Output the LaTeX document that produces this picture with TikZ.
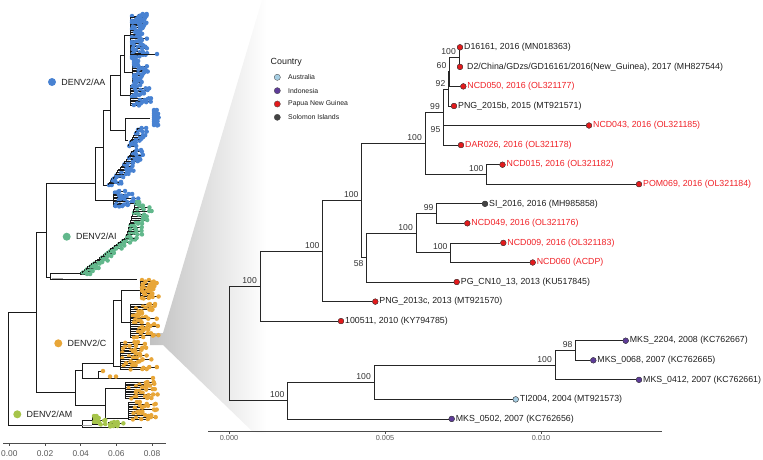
\documentclass[tikz,border=0pt]{standalone}
\usepackage{fontspec}
\setmainfont{Liberation Sans}
\definecolor{pngred}{RGB}{227,26,28}
\definecolor{labred}{RGB}{240,32,38}
\definecolor{indopur}{RGB}{94,60,153}
\definecolor{auslb}{RGB}{166,206,227}
\definecolor{solgray}{RGB}{68,68,68}
\definecolor{caa}{RGB}{72,130,210}
\definecolor{cai}{RGB}{98,184,140}
\definecolor{cc}{RGB}{232,166,56}
\definecolor{cam}{RGB}{166,196,74}
\definecolor{txt}{RGB}{30,30,30}
\definecolor{bstxt}{RGB}{50,50,50}
\tikzset{
  tline/.style={draw=black!85, line width=0.75pt},
  ltree/.style={draw=black!90, line width=0.4pt},
  tipdot/.style={circle, draw=black!75, line width=0.35pt, inner sep=0pt, minimum size=5.6pt, fill=#1},
  tiplab/.style={anchor=west, inner sep=1pt, text=txt, font=\fontsize{8.8}{10}\selectfont},
  redlab/.style={tiplab, text=labred},
  bs/.style={anchor=south east, inner sep=0.5pt, text=bstxt, font=\fontsize{8.6}{10}\selectfont, xshift=-2.5pt, yshift=2pt},
  bsb/.style={anchor=north east, inner sep=0.5pt, text=bstxt, font=\fontsize{8.6}{10}\selectfont, xshift=-2.5pt, yshift=-2pt},
  lgtitle/.style={anchor=west, inner sep=0pt, text=txt, font=\fontsize{8.9}{10}\selectfont},
  lglab/.style={anchor=west, inner sep=0pt, text=txt, font=\fontsize{6.9}{8}\selectfont},
  lgdot/.style={circle, draw=black!70, line width=0.35pt, inner sep=0pt, minimum size=6.2pt, fill=#1},
  cdot/.style={circle, draw=none, inner sep=0pt, minimum size=8pt, fill=#1},
  cladelab/.style={anchor=west, inner sep=0pt, xshift=5pt, text=txt, font=\fontsize{8.9}{10}\selectfont},
  axline/.style={draw=black!70, line width=0.6pt},
  axlab/.style={inner sep=0pt, text=black!65, font=\fontsize{7.3}{8}\selectfont},
  laxlab/.style={inner sep=0pt, text=black!65, font=\fontsize{8.4}{9}\selectfont}
}
% comb: color, x of vertical, y from, y to, intervals, tip xmin, tip xmax
\newcommand\lcomb[7]{%
  \draw[ltree] (#2,#3) -- (#2,#4);
  \foreach \i in {0,...,#5}{%
    \pgfmathsetmacro\lcy{#3+(#4-#3)*\i/#5}%
    \pgfmathsetmacro\lcx{#6+rnd*(#7-#6)}%
    \pgfmathsetmacro\lcz{max(#2+2,\lcx-2-rnd*7)}%
    \pgfmathsetmacro\lcw{#2+2+rnd*(\lcx-#2-2)}%
    \draw[ltree] (#2,\lcy) -- (\lcx,\lcy);
    \fill[#1] (\lcx,\lcy) circle[radius=2.25pt] (\lcz,\lcy) circle[radius=2.25pt] (\lcw,\lcy+0.6) circle[radius=2.1pt];
  }%
}
% ladder: color, x start, y start, x end, y end, intervals, max tip length
\newcommand\lladder[7]{%
  \foreach \i in {0,...,#6}{%
    \pgfmathsetmacro\lxn{#2+(#4-#2)*\i/#6}%
    \pgfmathsetmacro\lyn{#3+(#5-#3)*\i/#6}%
    \pgfmathsetmacro\lxt{\lxn+2+rnd*#7}%
    \pgfmathsetmacro\lxs{max(\lxn+1,\lxt-2-rnd*5)}%
    \ifnum\i>0
      \pgfmathsetmacro\lxp{#2+(#4-#2)*(\i-1)/#6}%
      \pgfmathsetmacro\lyp{#3+(#5-#3)*(\i-1)/#6}%
      \draw[ltree] (\lxp,\lyp) |- (\lxn,\lyn);
    \fi
    \draw[ltree] (\lxn,\lyn) -- (\lxt,\lyn);
    \fill[#1] (\lxt,\lyn) circle[radius=2.25pt] (\lxs,\lyn) circle[radius=2.25pt];
  }%
}
\begin{document}
\begin{tikzpicture}[x=1pt,y=-1pt]
\useasboundingbox (0,0) rectangle (763,459);
\pgfmathsetseed{4242}
% zoom wedge
\shade[left color=gray!48, right color=white, draw=none]
  (150,333) -- (163,333) -- (262,0) -- (266,0) -- (266,434) -- (253,432) -- (163,345) -- (150,345) -- cycle;

% ================= left tree =================
\coordinate (L0) at (8.3,368.35);
\coordinate (LN2) at (36,311.7);
\coordinate (LN1) at (46,231.7);
\coordinate (LAA) at (95,183.3);
\coordinate (LAI) at (50,277);
\coordinate (LC) at (75,391.7);
\coordinate (LAM) at (81.7,425);
\draw[ltree] (L0) |- (LN2);
\draw[ltree] (L0) |- (LAM);
\draw[ltree] (LN2) |- (LN1);
\draw[ltree] (LN2) |- (LC);
\draw[ltree] (LN1) |- (LAA);
\draw[ltree] (LN1) |- (LAI);

% AA clade
\draw[ltree] (95,147) -- (95,200);
\draw[ltree] (95,200) -- (113,200);
\lcomb{caa}{113}{191}{206}{10}{118}{142}
\draw[ltree] (95,147) -- (103,147);
\draw[ltree] (103,110) -- (103,185);
\draw[ltree] (103,185) -- (108,185);
\lladder{caa}{108}{185}{134}{150}{22}{13}
\draw[ltree] (103,110) -- (110,110);
\draw[ltree] (110,75) -- (110,130);
\draw[ltree] (110,130) -- (125,130);
\draw[ltree] (125,118) -- (125,140);
\draw[ltree] (125,140) -- (128,140);
\lladder{caa}{128}{146}{138}{128}{10}{11}
\draw[ltree] (125,118) -- (150,118);
\lcomb{caa}{152}{110}{125}{8}{154}{159}
\draw[ltree] (110,75) -- (120,75);
\draw[ltree] (120,55) -- (120,95);
\draw[ltree] (120,95) -- (130,95);
\lcomb{caa}{130}{85}{105}{12}{135}{152}
\draw[ltree] (120,55) -- (124,55);
\draw[ltree] (124,35) -- (124,72);
\draw[ltree] (124,72) -- (132,72);
\lcomb{caa}{132}{61}{82}{12}{136}{154}
\draw[ltree] (124,35) -- (130,35);
\lcomb{caa}{130}{16}{58}{26}{133}{148}
\lcomb{caa}{138}{14}{28}{8}{140}{147}
\draw[ltree] (130,54) -- (157,54);
\fill[caa] (157,54) circle[radius=2.25pt];

% AI clade
\draw[ltree] (50,273) -- (50,279);
\draw[ltree] (50,279) -- (136.7,279);
\draw[gray!70, line width=1.4pt] (52,278.6) -- (63,278.6);
\draw[ltree] (50,273) -- (80,273);
\lladder{cai}{80}{274}{126}{238}{24}{9}
\lladder{cai}{126}{238}{136}{202}{20}{18}

% C clade
\draw[ltree] (75,370) -- (75,405);
\draw[ltree] (75,370) -- (81.7,370);
\draw[ltree] (81.7,363) -- (81.7,378);
\draw[ltree] (81.7,378) -- (153,378);
\fill[cc] (153,378) circle[radius=2.25pt];
\draw[ltree] (98,378) |- (103,371);
\fill[cc] (103,371) circle[radius=2.25pt];
\fill[cc] (110,376.5) circle[radius=2.25pt];
\fill[cc] (116,376.5) circle[radius=2.25pt];
\draw[ltree] (81.7,363) -- (113,363);
\draw[ltree] (113,300) -- (113,366);
\draw[ltree] (113,300) -- (121,300);
\draw[ltree] (121,290) -- (121,322);
\draw[ltree] (121,290) -- (140,290);
\lcomb{cc}{140}{280}{298}{12}{146}{160}
\draw[ltree] (121,322) -- (130,322);
\lcomb{cc}{130}{304}{337}{18}{138}{160}
\draw[ltree] (113,366) -- (120,366);
\lcomb{cc}{120}{342}{369}{14}{134}{158}
\draw[ltree] (75,405) -- (105,405);
\draw[ltree] (105,388) -- (105,418);
\draw[ltree] (105,388) -- (125,388);
\lcomb{cc}{125}{382}{398}{9}{138}{158}
\draw[ltree] (105,418) -- (128,418);
\lcomb{cc}{128}{402}{419}{9}{138}{158}

% AM clade
\draw[ltree] (81.7,420) -- (81.7,427);
\draw[ltree] (81.7,427) -- (141.7,427);
\draw[gray!70, line width=1.4pt] (82,425.6) -- (92,425.6);
\draw[ltree] (81.7,420) -- (92,420);
\lcomb{cam}{92}{416}{424}{4}{96}{106}
\draw[ltree] (100,427) -- (108,427);
\lcomb{cam}{108}{422}{426}{3}{112}{128}

% clade labels
\node[cdot=caa] (dAA) at (52,82) {};
\node[cladelab] (tAA) at (dAA.east) {DENV2/AA};
\node[cdot=cai] (dAI) at (66.7,236.7) {};
\node[cladelab] (tAI) at (dAI.east) {DENV2/AI};
\node[cdot=cc] (dC) at (58.3,343.3) {};
\node[cladelab] (tC) at (dC.east) {DENV2/C};
\node[cdot=cam] (dAM) at (17.3,414.3) {};
\node[cladelab] (tAM) at (dAM.east) {DENV2/AM};

% left axis
\draw[axline] (3,443.3) -- (166,443.3);
\foreach \k/\lab in {0/0.00,1/0.02,2/0.04,3/0.06,4/0.08}{
  \draw[axline] (9.3+35.7*\k,443.3) -- (9.3+35.7*\k,446.3);
  \node[laxlab] (lax\k) at (9.3+35.7*\k,454) {\lab};
}

% ================= legend =================
\node[lgtitle] (lgT) at (270.5,62.3) {Country};
\node[lgdot=auslb] (lg1) at (277.3,77.3) {};
\node[lglab] (lg1t) at (288,77.3) {Australia};
\node[lgdot=indopur] (lg2) at (277.3,90.7) {};
\node[lglab] (lg2t) at (288,90.7) {Indonesia};
\node[lgdot=pngred] (lg3) at (277.3,104) {};
\node[lglab] (lg3t) at (288,104) {Papua New Guinea};
\node[lgdot=solgray] (lg4) at (277.3,117.3) {};
\node[lglab] (lg4t) at (288,117.3) {Solomon Islands};

% ================= right tree =================
\coordinate (r) at (229,343.3);
\coordinate (n260) at (260,286.05);
\coordinate (n287) at (287.7,400.6);
\coordinate (n322) at (322.7,251.0);
\coordinate (n361) at (361.7,200.45);
\coordinate (n366) at (366.7,257.6);
\coordinate (n425) at (425,143.3);
\coordinate (n99) at (443,112.1);
\coordinate (n95) at (443.5,135.3);
\coordinate (n92) at (448.5,88.9);
\coordinate (n60) at (449.5,71.75);
\coordinate (nD) at (459,57.1);
\coordinate (n486) at (486.7,174.45);
\coordinate (n416) at (416,233.1);
\coordinate (n436) at (436.7,213.55);
\coordinate (n450) at (450.7,252.7);
\coordinate (n374) at (374,382.3);
\coordinate (n555) at (555,365.15);
\coordinate (n575) at (575.7,350.5);

% tips
\node[tipdot=pngred] (tD16161) at (460,47.3) {};
\node[tipdot=pngred] (tD2) at (460,66.9) {};
\node[tipdot=pngred] (tNCD050) at (463.3,86.4) {};
\node[tipdot=pngred] (tPNG15b) at (454,106.0) {};
\node[tipdot=pngred] (tNCD043) at (589,125.5) {};
\node[tipdot=pngred] (tDAR026) at (461,145.1) {};
\node[tipdot=pngred] (tNCD015) at (502.5,164.7) {};
\node[tipdot=pngred] (tPOM069) at (639,184.2) {};
\node[tipdot=solgray] (tSI) at (485,203.8) {};
\node[tipdot=pngred] (tNCD049) at (467.3,223.3) {};
\node[tipdot=pngred] (tNCD009) at (503.3,242.9) {};
\node[tipdot=pngred] (tNCD060) at (532.7,262.5) {};
\node[tipdot=pngred] (tPGCN) at (456.7,282.0) {};
\node[tipdot=pngred] (tPNG13c) at (375.3,301.6) {};
\node[tipdot=pngred] (t100511) at (341,321.1) {};
\node[tipdot=indopur] (tMKS2204) at (625.7,340.7) {};
\node[tipdot=indopur] (tMKS0068) at (593.3,360.3) {};
\node[tipdot=indopur] (tMKS0412) at (639,379.8) {};
\node[tipdot=auslb] (tTI2004) at (515.7,399.4) {};
\node[tipdot=indopur] (tMKS0502) at (451.7,418.9) {};

% branches
\draw[tline] (r) |- (n260);
\draw[tline] (r) |- (n287);
\draw[tline] (n260) |- (n322);
\draw[tline] (n260) |- (t100511);
\draw[tline] (n322) |- (n361);
\draw[tline] (n322) |- (tPNG13c);
\draw[tline] (n361) |- (n425);
\draw[tline] (n361) |- (n366);
\draw[tline] (n425) |- (n99);
\draw[tline] (n425) |- (n486);
\draw[tline] (n99) |- (n92);
\draw[tline] (n99) |- (n95);
\draw[tline] (n92) |- (n60);
\draw[tline] (n92) |- (tPNG15b);
\draw[tline] (n60) |- (nD);
\draw[tline] (n60) |- (tNCD050);
\draw[tline] (nD) |- (tD16161);
\draw[tline] (nD) |- (tD2);
\draw[tline] (n95) |- (tNCD043);
\draw[tline] (n95) |- (tDAR026);
\draw[tline] (n486) |- (tNCD015);
\draw[tline] (n486) |- (tPOM069);
\draw[tline] (n366) |- (n416);
\draw[tline] (n366) |- (tPGCN);
\draw[tline] (n416) |- (n436);
\draw[tline] (n416) |- (n450);
\draw[tline] (n436) |- (tSI);
\draw[tline] (n436) |- (tNCD049);
\draw[tline] (n450) |- (tNCD009);
\draw[tline] (n450) |- (tNCD060);
\draw[tline] (n287) |- (n374);
\draw[tline] (n287) |- (tMKS0502);
\draw[tline] (n374) |- (n555);
\draw[tline] (n374) |- (tTI2004);
\draw[tline] (n555) |- (n575);
\draw[tline] (n555) |- (tMKS0412);
\draw[tline] (n575) |- (tMKS2204);
\draw[tline] (n575) |- (tMKS0068);

% redraw tip dots on top
\foreach \t/\c in {tD16161/pngred,tD2/pngred,tNCD050/pngred,tPNG15b/pngred,tNCD043/pngred,tDAR026/pngred,tNCD015/pngred,tPOM069/pngred,tSI/solgray,tNCD049/pngred,tNCD009/pngred,tNCD060/pngred,tPGCN/pngred,tPNG13c/pngred,t100511/pngred,tMKS2204/indopur,tMKS0068/indopur,tMKS0412/indopur,tTI2004/auslb,tMKS0502/indopur}{
  \fill[\c, draw=black!75, line width=0.35pt] (\t.center) circle[radius=2.8pt];
}

% tip labels
\node[tiplab] (lD16161) at (tD16161.east) {D16161, 2016 (MN018363)};
\node[tiplab, xshift=3pt] (lD2) at (tD2.east) {D2/China/GDzs/GD16161/2016(New\_Guinea), 2017 (MH827544)};
\node[redlab] (lNCD050) at (tNCD050.east) {NCD050, 2016 (OL321177)};
\node[tiplab] (lPNG15b) at (tPNG15b.east) {PNG\_2015b, 2015 (MT921571)};
\node[redlab] (lNCD043) at (tNCD043.east) {NCD043, 2016 (OL321185)};
\node[redlab] (lDAR026) at (tDAR026.east) {DAR026, 2016 (OL321178)};
\node[redlab] (lNCD015) at (tNCD015.east) {NCD015, 2016 (OL321182)};
\node[redlab] (lPOM069) at (tPOM069.east) {POM069, 2016 (OL321184)};
\node[tiplab] (lSI) at (tSI.east) {SI\_2016, 2016 (MH985858)};
\node[redlab] (lNCD049) at (tNCD049.east) {NCD049, 2016 (OL321176)};
\node[redlab] (lNCD009) at (tNCD009.east) {NCD009, 2016 (OL321183)};
\node[redlab] (lNCD060) at (tNCD060.east) {NCD060 (ACDP)};
\node[tiplab] (lPGCN) at (tPGCN.east) {PG\_CN10\_13, 2013 (KU517845)};
\node[tiplab] (lPNG13c) at (tPNG13c.east) {PNG\_2013c, 2013 (MT921570)};
\node[tiplab] (l100511) at (t100511.east) {100511, 2010 (KY794785)};
\node[tiplab] (lMKS2204) at (tMKS2204.east) {MKS\_2204, 2008 (KC762667)};
\node[tiplab] (lMKS0068) at (tMKS0068.east) {MKS\_0068, 2007 (KC762665)};
\node[tiplab] (lMKS0412) at (tMKS0412.east) {MKS\_0412, 2007 (KC762661)};
\node[tiplab] (lTI2004) at (tTI2004.east) {TI2004, 2004 (MT921573)};
\node[tiplab] (lMKS0502) at (tMKS0502.east) {MKS\_0502, 2007 (KC762656)};

% bootstrap labels
\node[bs] (bD) at (nD) {100};
\node[bs] (b60) at (n60) {60};
\node[bs] (b92) at (n92) {92};
\node[bs] (b99) at (n99) {99};
\node[bs] (b95) at (n95) {95};
\node[bs] (b425) at (n425) {100};
\node[bs] (b486) at (n486) {100};
\node[bs] (b361) at (n361) {100};
\node[bs] (b322) at (n322) {100};
\node[bs] (b260) at (n260) {100};
\node[bsb] (b366) at (n366) {58};
\node[bs] (b416) at (n416) {100};
\node[bs] (b436) at (n436) {99};
\node[bs] (b450) at (n450) {100};
\node[bs] (b287) at (n287) {100};
\node[bs] (b374) at (n374) {100};
\node[bs] (b555) at (n555) {100};
\node[bs] (b575) at (n575) {98};

% right axis
\draw[axline] (208,431) -- (662,431);
\foreach \k/\lab in {0/0.000,1/0.005,2/0.010}{
  \draw[axline] (229+156*\k,431) -- (229+156*\k,434);
  \node[axlab] (rax\k) at (229+156*\k,438.2) {\lab};
}
\end{tikzpicture}
\end{document}
